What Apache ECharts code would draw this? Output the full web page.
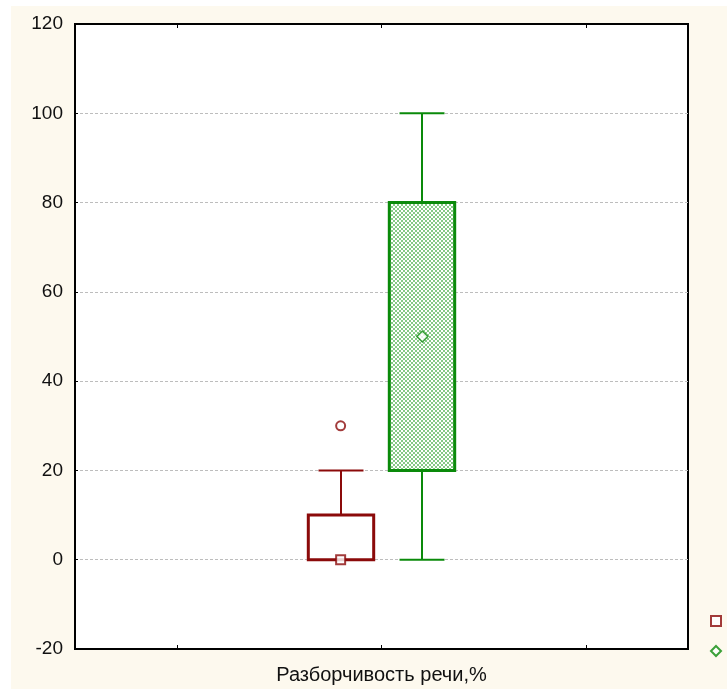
<!DOCTYPE html>
<html>
<head>
<meta charset="utf-8">
<script src="https://cdn.jsdelivr.net/npm/echarts@6/dist/echarts.min.js"></script>
<style>
  html, body { margin: 0; padding: 0; background: #ffffff; }
  #page { position: relative; width: 727px; height: 689px; background: #ffffff; }
  #main { position: absolute; left: 11px; top: 6px; width: 716px; height: 683px; background: #fdf9ee; }
</style>
</head>
<body>
<div id="page"><div id="main"></div></div>
<script>
// box plot data
const groupNames = ['Группа 1', 'Группа 2'];
const whiskerLow = [0, 0];
const q1 = [0, 20];
const q3 = [10, 80];
const whiskerHigh = [20, 100];
const medians = [0, 50];
const outliers = [30, null];
const yTicks = [-20, 0, 20, 40, 60, 80, 100, 120];

// x placement of the two boxes on a 0..6 axis
const xPos = [2.6, 3.4];
const colors = ['#8b0a0a', '#0a8a0a'];

// hatch pattern for the green box
const pat = document.createElement('canvas');
pat.width = 4; pat.height = 4;
const pctx = pat.getContext('2d');
pctx.fillStyle = '#ffffff';
pctx.fillRect(0, 0, 4, 4);
pctx.fillStyle = '#86c986';
pctx.fillRect(0, 0, 2, 2);
pctx.fillRect(2, 2, 2, 2);

const boxData = groupNames.map((n, i) => [xPos[i], whiskerLow[i], q1[i], q3[i], whiskerHigh[i], i]);

const myChart = echarts.init(document.getElementById('main'));

const xAxisBase = {
  type: 'value', min: 0, max: 6,
  axisLine: { show: true, onZero: false, lineStyle: { color: '#000', width: 2 } },
  axisTick: { show: true, inside: true, length: 4, customValues: [1, 3, 5], lineStyle: { color: '#000' } },
  axisLabel: { show: false },
  splitLine: { show: false }
};

const option = {
  animation: false,
  grid: {
    left: 64, top: 18, right: 39, bottom: 40,
    outerBoundsMode: 'none', containLabel: false,
    show: true, backgroundColor: '#ffffff', borderColor: '#000', borderWidth: 2
  },
  legend: {
    orient: 'vertical', left: 694, top: 604, itemGap: 18,
    itemWidth: 10, itemHeight: 10,
    formatter: () => '',
    data: groupNames
  },
  xAxis: [Object.assign({}, xAxisBase, {
    position: 'bottom',
    name: 'Разборчивость речи,%', nameLocation: 'middle', nameGap: 16,
    nameTextStyle: { fontFamily: 'Liberation Sans', fontSize: 20, color: '#111' }
  }), Object.assign({}, xAxisBase, { position: 'top' })],
  yAxis: {
    type: 'value', min: yTicks[0], max: yTicks[yTicks.length - 1], interval: 20,
    axisLine: { show: true, onZero: false, lineStyle: { color: '#000', width: 2 } },
    axisTick: { show: true, inside: true, length: 3, lineStyle: { color: '#000' } },
    axisLabel: { fontFamily: 'Liberation Sans', fontSize: 19, color: '#111', margin: 12 },
    splitLine: { show: true, lineStyle: { color: '#bdbdbd', type: [3, 2], width: 1 } }
  },
  series: [{
    type: 'custom',
    name: 'boxes',
    silent: true,
    data: boxData,
    z: 2,
    renderItem: function (params, api) {
      const i = api.value(5);
      const x = api.value(0);
      const c = colors[i];
      const pLow = api.coord([x, api.value(1)]);
      const pQ1 = api.coord([x, api.value(2)]);
      const pQ3 = api.coord([x, api.value(3)]);
      const pHigh = api.coord([x, api.value(4)]);
      const halfBox = api.size([0.64, 0])[0] / 2;
      const halfCap = api.size([0.44, 0])[0] / 2;
      const cx = Math.round(pQ1[0]);
      const kids = [];
      const line = (x1, y1, x2, y2, w) => ({
        type: 'line', shape: { x1, y1, x2, y2 }, style: { stroke: c, lineWidth: w }
      });
      if (pLow[1] - pQ1[1] > 1) {
        kids.push(line(cx, pQ1[1], cx, pLow[1], 2));
        kids.push(line(cx - halfCap, pLow[1], cx + halfCap, pLow[1], 2));
      }
      kids.push(line(cx, pQ3[1], cx, pHigh[1], 2));
      kids.push(line(cx - halfCap, pHigh[1], cx + halfCap, pHigh[1], 2));
      kids.push({
        type: 'rect',
        shape: { x: cx - halfBox, y: pQ3[1], width: halfBox * 2, height: pQ1[1] - pQ3[1] },
        style: {
          fill: i === 1 ? { image: pat, repeat: 'repeat' } : '#ffffff',
          stroke: c, lineWidth: 3
        }
      });
      return { type: 'group', children: kids };
    }
  }, {
    type: 'scatter',
    name: groupNames[0],
    symbol: 'rect', symbolSize: 9, z: 5,
    itemStyle: { color: '#ffffff', borderColor: colors[0], borderWidth: 2 },
    data: [[xPos[0], medians[0]]]
  }, {
    type: 'scatter',
    name: groupNames[1],
    symbol: 'diamond', symbolSize: 11, z: 5,
    itemStyle: { color: '#ffffff', borderColor: colors[1], borderWidth: 1.5 },
    data: [[xPos[1], medians[1]]]
  }, {
    type: 'scatter',
    name: 'outliers',
    symbol: 'circle', symbolSize: 9, z: 5,
    itemStyle: { color: '#ffffff', borderColor: colors[0], borderWidth: 2 },
    data: outliers.map((v, i) => v === null ? null : [xPos[i], v]).filter(d => d)
  }]
};

myChart.setOption(option);
</script>
</body>
</html>
